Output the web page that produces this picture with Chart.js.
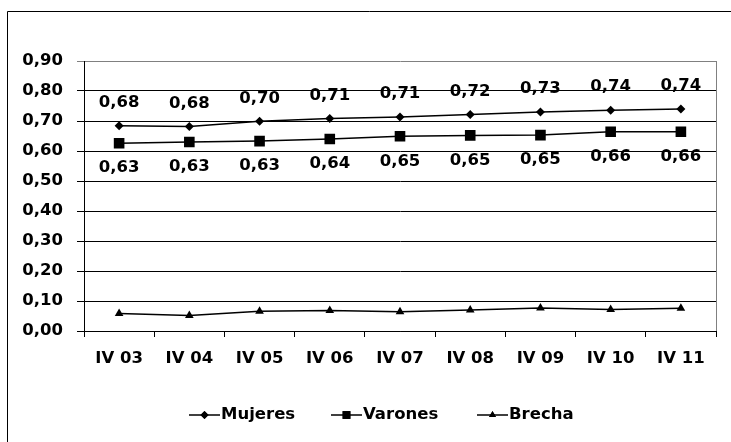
<!DOCTYPE html>
<html>
<head>
<meta charset="utf-8">
<script src="https://cdn.jsdelivr.net/npm/chart.js@4.4.0/dist/chart.umd.min.js"></script>
<style>
  html, body { margin: 0; padding: 0; background: #fff; }
  canvas { display: block; }
</style>
</head>
<body>
<canvas id="grafico" width="731" height="442"></canvas>
<script>
const periodos = ['IV 03', 'IV 04', 'IV 05', 'IV 06', 'IV 07', 'IV 08', 'IV 09', 'IV 10', 'IV 11'];
const mujeres = [0.684, 0.682, 0.699, 0.708, 0.713, 0.722, 0.730, 0.736, 0.740];
const varones = [0.626, 0.630, 0.633, 0.640, 0.649, 0.652, 0.653, 0.664, 0.664];
const brecha = [0.058, 0.052, 0.066, 0.068, 0.064, 0.070, 0.077, 0.072, 0.076];
const ejeY = { min: 0, max: 0.9, paso: 0.1 };

const familia = 'DejaVu Sans';
const tam = 16.5;
const fuente = { family: familia, size: tam, weight: 'bold' };
const coma = v => v.toFixed(2).replace('.', ',');

// series: nombre, datos, estilo de punto, radio en el grafico y en la leyenda
const series = [
  { nombre: 'Mujeres', datos: mujeres, punto: 'rectRot', radio: 4.5, radioLey: 4 },
  { nombre: 'Varones', datos: varones, punto: 'rect', radio: 7.5, radioLey: 5.5 },
  { nombre: 'Brecha', datos: brecha, punto: 'triangle', radio: 5, radioLey: 4 }
];

const extras = {
  id: 'extras',
  afterDraw(chart) {
    const ctx = chart.ctx;
    const area = chart.chartArea;
    ctx.save();

    // marco exterior
    ctx.strokeStyle = '#000';
    ctx.lineWidth = 1;
    ctx.beginPath();
    ctx.moveTo(7.5, 442);
    ctx.lineTo(7.5, 11.5);
    ctx.lineTo(731, 11.5);
    ctx.stroke();

    // borde derecho del area de trazado
    ctx.strokeStyle = '#808080';
    ctx.beginPath();
    ctx.moveTo(area.right + 0.5, area.top);
    ctx.lineTo(area.right + 0.5, area.bottom);
    ctx.stroke();

    // etiquetas de datos
    ctx.font = 'bold ' + tam + 'px "' + familia + '"';
    ctx.fillStyle = '#000';
    ctx.textAlign = 'center';
    ctx.textBaseline = 'middle';
    chart.getDatasetMeta(0).data.forEach((p, i) => ctx.fillText(coma(mujeres[i]), p.x, p.y - 23));
    chart.getDatasetMeta(1).data.forEach((p, i) => ctx.fillText(coma(varones[i]), p.x, p.y + 25));

    // leyenda
    const yL = 415;
    const posiciones = [189, 331, 477];
    series.forEach((s, i) => {
      const x0 = posiciones[i];
      ctx.strokeStyle = '#000';
      ctx.lineWidth = 1.5;
      ctx.beginPath();
      ctx.moveTo(x0, yL);
      ctx.lineTo(x0 + 31, yL);
      ctx.stroke();
      ctx.fillStyle = '#000';
      Chart.helpers.drawPoint(ctx, { pointStyle: s.punto, radius: s.radioLey, rotation: 0, borderWidth: 0 }, x0 + 15.5, yL);
      ctx.fill();
      ctx.textAlign = 'left';
      ctx.fillText(s.nombre, x0 + 32, yL);
    });
    ctx.restore();
  }
};

new Chart(document.getElementById('grafico'), {
  type: 'line',
  data: {
    labels: periodos,
    datasets: series.map(s => ({
      label: s.nombre,
      data: s.datos,
      borderColor: '#000',
      backgroundColor: '#000',
      borderWidth: 1.5,
      pointStyle: s.punto,
      pointRadius: s.radio,
      pointBorderWidth: 0,
      pointBackgroundColor: '#000',
      tension: 0,
      fill: false
    }))
  },
  options: {
    responsive: false,
    animation: false,
    devicePixelRatio: 1,
    layout: { padding: { left: 0, top: 61, right: 15, bottom: 0 } },
    plugins: {
      legend: { display: false },
      tooltip: { enabled: false }
    },
    scales: {
      x: {
        offset: true,
        afterFit: scale => { scale.height = 111; },
        grid: { offset: true, drawOnChartArea: false, tickLength: 6, color: '#000' },
        border: { color: '#000' },
        ticks: { font: fuente, color: '#000', padding: 12, maxRotation: 0 }
      },
      y: {
        min: ejeY.min,
        max: ejeY.max,
        afterFit: scale => { scale.width = 84; },
        grid: {
          tickLength: 7,
          color: c => (c.tick && c.tick.value > 0.89) ? '#808080' : '#000',
          tickColor: c => (c.tick && c.tick.value > 0.89) ? '#808080' : '#000'
        },
        border: { color: '#000' },
        ticks: { stepSize: ejeY.paso, font: fuente, color: '#000', padding: 14, callback: v => coma(v) }
      }
    }
  },
  plugins: [extras]
});
</script>
</body>
</html>
